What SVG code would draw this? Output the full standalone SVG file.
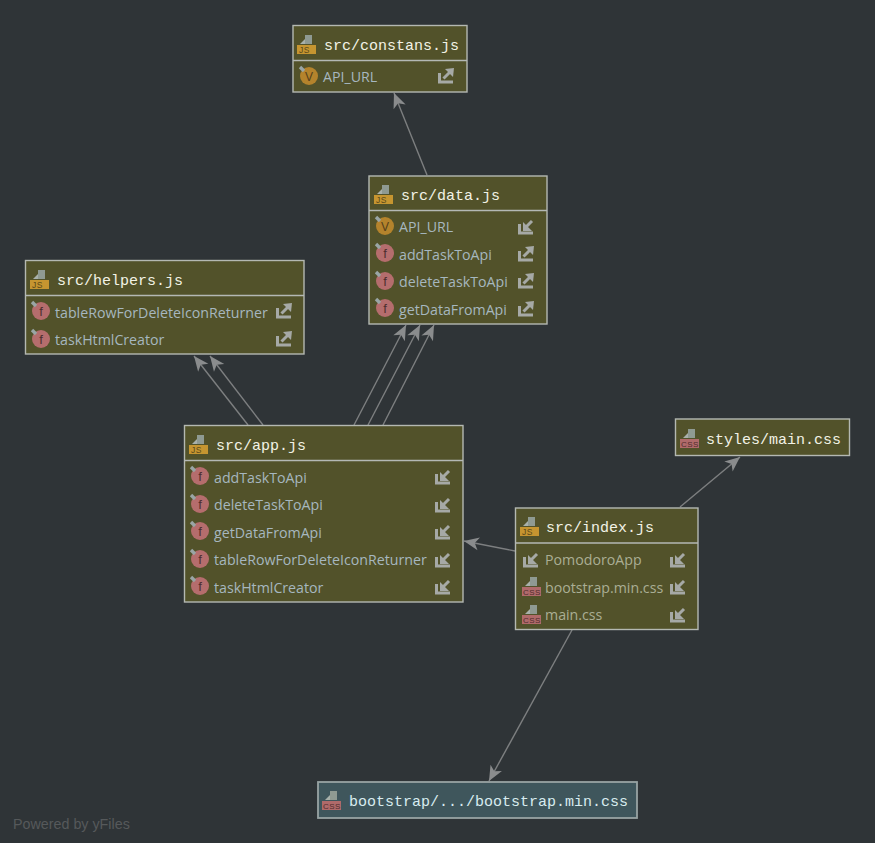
<svg xmlns="http://www.w3.org/2000/svg" width="875" height="843" viewBox="0 0 875 843">
<style>
.box{fill:#52522a;stroke:#b4b8b2;stroke-width:1.4}
.lib{fill:#3f565c;stroke:#98a3a3;stroke-width:1.8}
.div{stroke:#b4b8b4;stroke-width:1.4;fill:none}
.hd{font-family:"Liberation Mono",monospace;font-size:15px;fill:#f2f2e6}
.hdl{font-family:"Liberation Mono",monospace;font-size:15px;fill:#d8ecf0}
.it{font-family:"Open Sans","Noto Sans",sans-serif;font-size:14.2px;fill:#aaae94}
.itb{font-family:"Open Sans","Noto Sans",sans-serif;font-size:14.2px;fill:#a6b7bf}
.edge{stroke:#7d7f80;stroke-width:1.4;fill:none;marker-end:url(#ah)}
.ic{font-family:"Liberation Sans",sans-serif}
.ig{fill:#a6a9a6}
.ist{stroke:#a6a9a6;stroke-width:3;fill:none}
</style>
<defs>
<marker id="ah" markerUnits="userSpaceOnUse" markerWidth="20" markerHeight="16" refX="17" refY="8" orient="auto" overflow="visible">
<path d="M17,8 L2,1.5 L6,8 L2,14.5 Z" fill="#8a8c8d"/>
</marker>
<g id="file"><path d="M3,9 L8,4 V9 Z" fill="#a8b0aa"/><path d="M8,9 V0 H15 V9 Z" fill="#8f9a92"/></g>
<g id="js"><use href="#file"/><rect x="0" y="10" width="19" height="9" fill="#c69530"/><text x="2" y="18" class="ic" font-size="8.5" fill="#5a4a1a" letter-spacing="0.6">JS</text></g>
<g id="css"><use href="#file"/><rect x="0" y="10" width="19" height="9" fill="#b06a6a"/><text x="1" y="18" class="ic" font-size="8" fill="#4f2c2c" letter-spacing="0.5">CSS</text></g>
<g id="fn"><circle r="9" fill="#b56d6d"/><path d="M-9,-9 L-5,-5" stroke="#9aa5a5" stroke-width="3.4"/><text y="4.5" text-anchor="middle" class="ic" font-size="13" fill="#4e2f2f">f</text></g>
<g id="vr"><circle r="9" fill="#b4832c"/><path d="M-9,-9 L-5,-5" stroke="#9aa5a5" stroke-width="3.4"/><text y="4.5" text-anchor="middle" class="ic" font-size="12" fill="#55401a">V</text></g>
<g id="ex"><path class="ist" d="M1.5,5 V14 H15"/><path class="ist" d="M5.500,10.500 L12,4"/><path class="ig" d="M7,1 L16,0 L15,9 Z"/></g>
<g id="im"><path class="ist" d="M1.5,5 V14 H15"/><path class="ist" d="M14,2 L7,9"/><path class="ig" d="M5,3 L5,12 L14,12 Z"/></g>
</defs>
<rect width="875" height="843" fill="#2f3437"/>
<g id="connectors">
<path class="edge" d="M427,175 L394,93"/>
<path class="edge" d="M354,425 L406,325"/>
<path class="edge" d="M368,425 L420,325"/>
<path class="edge" d="M383,425 L434,325"/>
<path class="edge" d="M248,425 L194,356"/>
<path class="edge" d="M263,425 L210,356"/>
<path class="edge" d="M680,507 L740,457"/>
<path class="edge" d="M515,551 L464,541"/>
<path class="edge" d="M572,630 L489,781"/>
</g>
<g id="node-constants">
<rect class="box" x="293" y="25.500" width="174" height="66.500"/><path class="div" d="M293,60.500 H467"/>
<use href="#js" x="297" y="35"/><text class="hd" x="324" y="50">src/constans.js</text>
<use href="#vr" x="309" y="76"/><text class="itb" x="323" y="82">API_URL</text><use href="#ex" x="438" y="68"/>
</g>
<g id="node-data">
<rect class="box" x="369" y="176" width="178" height="148"/><path class="div" d="M369,210.500 H547"/>
<use href="#js" x="374" y="185"/><text class="hd" x="401" y="200">src/data.js</text>
<use href="#vr" x="385" y="226"/><text class="itb" x="399" y="232">API_URL</text><use href="#im" x="518" y="219"/>
<use href="#fn" x="385" y="253"/><text class="itb" x="399" y="260">addTaskToApi</text><use href="#ex" x="518" y="246"/>
<use href="#fn" x="385" y="281"/><text class="itb" x="399" y="287">deleteTaskToApi</text><use href="#ex" x="518" y="273"/>
<use href="#fn" x="385" y="308"/><text class="itb" x="399" y="315">getDataFromApi</text><use href="#ex" x="518" y="301"/>
</g>
<g id="node-helpers">
<rect class="box" x="25.500" y="260.500" width="278.500" height="93.500"/><path class="div" d="M25,295.500 H304"/>
<use href="#js" x="30" y="270"/><text class="hd" x="57" y="285">src/helpers.js</text>
<use href="#fn" x="41" y="311"/><text class="itb" x="55" y="318">tableRowForDeleteIconReturner</text><use href="#ex" x="276" y="303"/>
<use href="#fn" x="41" y="339"/><text class="itb" x="55" y="345">taskHtmlCreator</text><use href="#ex" x="276" y="331"/>
</g>
<g id="node-app">
<rect class="box" x="184.500" y="425.500" width="278.500" height="176.500"/><path class="div" d="M184,460.500 H463"/>
<use href="#js" x="189" y="435"/><text class="hd" x="216" y="450">src/app.js</text>
<use href="#fn" x="200" y="476"/><text class="itb" x="214" y="483">addTaskToApi</text><use href="#im" x="435" y="469"/>
<use href="#fn" x="200" y="504"/><text class="itb" x="214" y="510">deleteTaskToApi</text><use href="#im" x="435" y="497"/>
<use href="#fn" x="200" y="531"/><text class="itb" x="214" y="538">getDataFromApi</text><use href="#im" x="435" y="524"/>
<use href="#fn" x="200" y="559"/><text class="itb" x="214" y="565">tableRowForDeleteIconReturner</text><use href="#im" x="435" y="552"/>
<use href="#fn" x="200" y="586"/><text class="itb" x="214" y="593">taskHtmlCreator</text><use href="#im" x="435" y="579"/>
</g>
<g id="node-index">
<rect class="box" x="515.500" y="508" width="182.500" height="121.500"/><path class="div" d="M516,543 H698"/>
<use href="#js" x="520" y="517"/><text class="hd" x="546" y="532">src/index.js</text>
<use href="#im" x="523" y="552"/><text class="it" x="545" y="565">PomodoroApp</text><use href="#im" x="670" y="552"/>
<use href="#css" x="522" y="577"/><text class="it" x="545" y="593">bootstrap.min.css</text><use href="#im" x="670" y="579"/>
<use href="#css" x="522" y="605"/><text class="it" x="545" y="620">main.css</text><use href="#im" x="670" y="607"/>
</g>
<g id="node-styles">
<rect class="box" x="675.500" y="419" width="174" height="36.500"/>
<use href="#css" x="680" y="429"/><text class="hd" x="706" y="444">styles/main.css</text>
</g>
<g id="node-bootstrap">
<rect class="lib" x="318" y="782" width="319" height="36"/>
<use href="#css" x="322" y="791"/><text class="hdl" x="349" y="806">bootstrap/.../bootstrap.min.css</text>
</g>
<text x="13" y="829" font-family="Liberation Sans,sans-serif" font-size="14.300" fill="#56595b">Powered by yFiles</text>
</svg>
